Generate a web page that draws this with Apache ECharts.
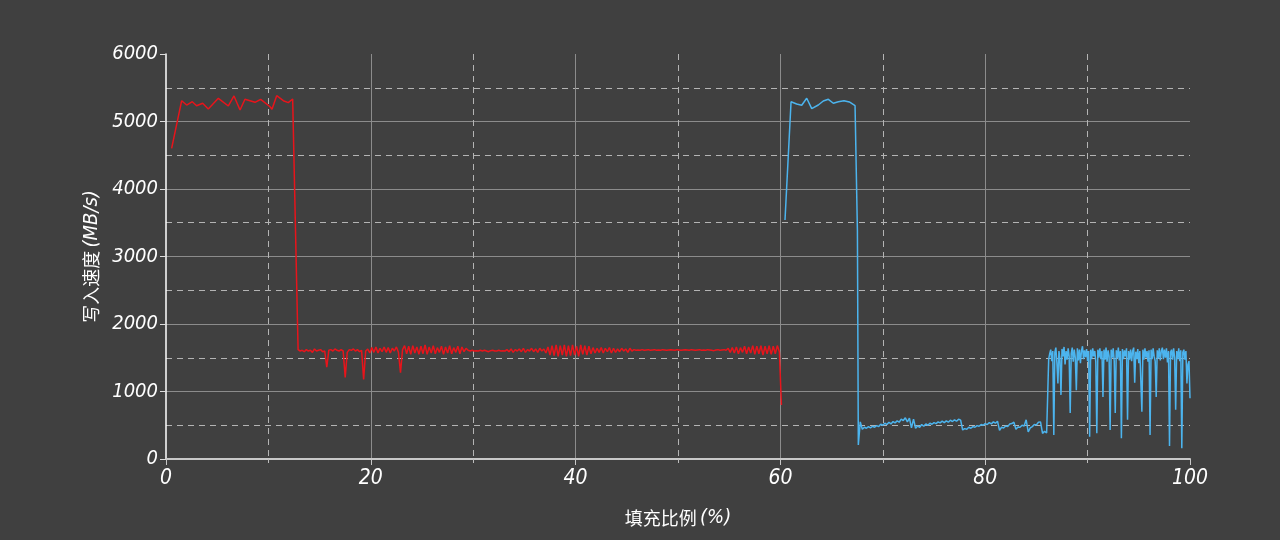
<!DOCTYPE html>
<html>
<head>
<meta charset="utf-8">
<script src="https://cdn.jsdelivr.net/npm/echarts@6/dist/echarts.min.js"></script>
<style>
html,body{margin:0;padding:0;background:#404040;}
#chart{width:1280px;height:540px;}
</style>
</head>
<body>
<div id="chart"></div>
<script>
// ---- data ----
const xTicks = [0, 20, 40, 60, 80, 100];
const yTicks = [0, 1000, 2000, 3000, 4000, 5000, 6000];

// red: SLC cache phase (explicit x)
const redHighX = [0.55,1.53,2.02,2.57,2.99,3.58,4.13,5.11,6.09,6.64,7.23,7.71,8.69,9.25,10.16,10.35,10.81,11.46,11.94,12.37];
const redHighY = [4603,5308,5244,5293,5234,5270,5185,5344,5230,5378,5170,5329,5284,5329,5219,5181,5383,5308,5279,5333];

// red: after cache, sampled every 0.2% starting at 12.9%
const redLowStart = 12.9, redLowStep = 0.2;
const redLowY = [
  1620,1600,1610,1590,1620,1600,1610,1580,1630,1600,
  1610,1620,1590,1600,1360,1610,1620,1600,1630,1610,
  1600,1620,1600,1210,1580,1620,1610,1630,1600,1620,
  1590,1610,1180,1600,1630,1570,1650,1580,1660,1570,
  1640,1590,1660,1580,1650,1570,1640,1600,1660,1580,
  1280,1620,1680,1560,1670,1550,1680,1570,1660,1550,
  1670,1560,1690,1550,1660,1570,1680,1560,1650,1580,
  1670,1550,1660,1570,1680,1560,1650,1580,1670,1560,
  1660,1590,1640,1610,1600,1610,1600,1605,1600,1610,
  1600,1610,1600,1590,1605,1610,1600,1600,1610,1600,
  1605,1600,1620,1590,1630,1580,1620,1600,1630,1590,
  1640,1580,1620,1600,1640,1590,1630,1580,1640,1600,
  1630,1570,1660,1540,1680,1530,1690,1520,1680,1540,
  1690,1520,1680,1530,1690,1540,1670,1520,1690,1550,
  1680,1540,1670,1560,1650,1570,1640,1580,1650,1570,
  1640,1590,1650,1570,1640,1580,1630,1590,1640,1600,
  1630,1580,1640,1600,1620,1610,1615,1610,1620,1610,
  1615,1620,1610,1615,1620,1610,1615,1610,1620,1615,
  1610,1615,1620,1615,1610,1620,1615,1610,1615,1620,
  1615,1610,1620,1615,1610,1615,1620,1610,1615,1610,
  1620,1615,1610,1605,1615,1620,1610,1615,1620,1610,
  1640,1580,1650,1570,1660,1560,1650,1580,1670,1560,
  1660,1570,1680,1550,1670,1560,1680,1540,1670,1560,
  1680,1550,1670,1560,1680,1590
];
const redTailX = [60.1];
const redTailY = [800];

// blue: second run, cache phase (explicit x)
const blueHighX = [60.45,61.04,61.59,62.08,62.57,63.06,63.7,64.19,64.68,65.17,65.66,66.21,66.73,67.29,67.52,67.61];
const blueHighY = [3540,5293,5259,5240,5344,5190,5244,5304,5329,5270,5293,5308,5289,5234,3390,207];

// blue: low phase sampled every 0.2% from 67.8%
const blueLowStart = 67.8, blueLowStep = 0.2;
const blueLowY = [
  550,440,470,455,480,460,485,470,495,480,
  515,500,530,510,545,520,555,535,565,545,
  590,570,610,550,605,460,590,455,490,470,
  510,485,520,500,530,515,540,525,550,535,
  560,540,565,545,575,555,580,560,590,575,
  430,450,440,470,455,480,470,495,485,510,
  500,525,510,540,520,550,530,560,425,470,
  460,490,480,520,525,545,440,475,470,500,
  490,580,400,460,480,510,505,545,550,380,
  410,385
];

// blue: noisy phase sampled every 0.1% from 86.2%
const blueNoisyStart = 86.2, blueNoisyStep = 0.1;
const blueNoisyY = [
  1480,1560,1620,1450,1600,355,1580,1650,1430,1120,
  1600,1480,950,1630,1520,1660,1400,1600,1470,1640,
  1520,680,1560,1650,1440,1620,1500,1020,1640,1460,
  1620,1420,1600,1670,1480,1610,1510,1630,1450,1600,
  330,1620,1480,1640,1520,1600,1440,380,1620,1500,
  1640,1480,1600,920,1620,1470,1650,1440,1610,1520,
  430,1620,1500,1640,1450,680,1610,1490,1650,1460,
  1600,306,1630,1480,1610,1520,1640,580,1600,1470,
  1620,1450,1600,1650,1130,1590,1480,1630,1420,1600,
  1580,700,1620,1470,1640,1500,1600,1440,1610,355,
  1620,1480,1640,1520,1450,920,1610,1490,1640,1460,
  1600,1650,1480,1620,1500,1640,1430,1600,193,1580,
  1620,1470,1640,1500,730,1600,1480,1640,1450,1610,
  158,1580,1620,1470,1600,1120,1400,1450,900
];

// ---- build series data ----
function zip(xs, ys){ return xs.map((x,i)=>[x, ys[i]]); }
function stepped(start, step, ys){ return ys.map((y,i)=>[+(start + step*i).toFixed(3), y]); }

const redData = [].concat(
  zip(redHighX, redHighY),
  stepped(redLowStart, redLowStep, redLowY),
  zip(redTailX, redTailY)
);
const blueData = [].concat(
  zip(blueHighX, blueHighY),
  stepped(blueLowStart, blueLowStep, blueLowY),
  stepped(blueNoisyStart, blueNoisyStep, blueNoisyY)
);

const LAT = '"DejaVu Sans Condensed","DejaVu Sans",sans-serif';
const CJK = '"Noto Sans CJK SC","Noto Sans",sans-serif';

const chart = echarts.init(document.getElementById('chart'), null, {renderer:'canvas'});
chart.setOption({
  backgroundColor: '#404040',
  animation: false,
  grid: { left: 166, right: 90, top: 54, bottom: 81, containLabel: false, outerBoundsMode: 'none' },
  xAxis: {
    type: 'value', min: xTicks[0], max: xTicks[xTicks.length-1], interval: 20,
    name: '{c|填充比例} {l|(%)}', nameLocation: 'middle', nameGap: 49,
    nameTextStyle: { rich: {
      c: { fontFamily: CJK, fontSize: 18, color: '#ffffff' },
      l: { fontFamily: LAT, fontSize: 20, fontStyle: 'italic', color: '#ffffff' }
    }},
    axisLine: { show: true, onZero: false, lineStyle: { color: '#c8c8c8', width: 2 } },
    axisTick: { show: true, length: 6, lineStyle: { color: '#c8c8c8', width: 1 } },
    minorTick: { show: true, splitNumber: 2, length: 4, lineStyle: { color: '#bdbdbd' } },
    axisLabel: { color: '#ffffff', fontFamily: LAT, fontStyle: 'italic', fontSize: 21, margin: 9,
      formatter: v => String(v) },
    splitLine: { show: true, showMinLine: false, showMaxLine: false, lineStyle: { color: '#8c8c8c', width: 1 } },
    minorSplitLine: { show: true, lineStyle: { color: '#b4b4b4', width: 1, type: [6,5] } }
  },
  yAxis: {
    type: 'value', min: yTicks[0], max: yTicks[yTicks.length-1], interval: 1000,
    name: '{c|写入速度} {l|(MB/s)}', nameLocation: 'middle', nameGap: 54, nameRotate: 90,
    nameTextStyle: { rich: {
      c: { fontFamily: CJK, fontSize: 18, color: '#ffffff' },
      l: { fontFamily: LAT, fontSize: 20, fontStyle: 'italic', color: '#ffffff' }
    }},
    axisLine: { show: true, onZero: false, lineStyle: { color: '#ffffff', width: 1.5 } },
    axisTick: { show: true, length: 6, lineStyle: { color: '#dddddd', width: 1 } },
    minorTick: { show: false, splitNumber: 2 },
    axisLabel: { color: '#ffffff', fontFamily: LAT, fontStyle: 'italic', fontSize: 20, margin: 8,
      formatter: v => String(v) },
    splitLine: { show: true, showMinLine: false, showMaxLine: false, lineStyle: { color: '#8c8c8c', width: 1 } },
    minorSplitLine: { show: true, lineStyle: { color: '#b4b4b4', width: 1, type: [6,5] } }
  },
  series: [
    { type: 'line', data: redData, showSymbol: false, symbol: 'none',
      lineStyle: { color: '#e8141b', width: 1.5 }, z: 3 },
    { type: 'line', data: blueData, showSymbol: false, symbol: 'none',
      lineStyle: { color: '#4cb4ee', width: 1.5 }, z: 3 }
  ]
});
</script>
</body>
</html>
